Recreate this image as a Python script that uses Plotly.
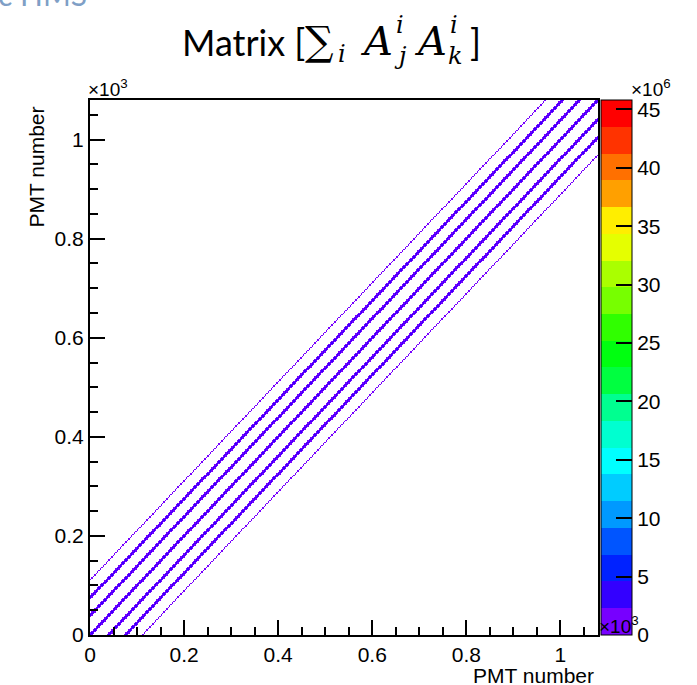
import numpy as np
import plotly.graph_objects as go

# ---------------- data ----------------
N_PMT = 1080                 # PMT index range shown on both axes
PMT_PER_BIN = 3              # binning of the 2D histogram
line_offset = [-112, -75, -38, 0, 38, 75, 112]          # k - j of the correlated diagonals
line_core = [1.1e6, 2.5e6, 2.6e6, 2.7e6, 2.6e6, 2.5e6, 1.1e6]   # sum_i A_j A_k on the diagonal
line_edge = [0.0, 1.3e6, 1.4e6, 1.5e6, 1.4e6, 1.3e6, 0.0]       # value one bin beside it
z_max = 45.8e6
cbar_ticks = [0, 5, 10, 15, 20, 25, 30, 35, 40, 45]       # x10^6
axis_ticks = [0, 0.2, 0.4, 0.6, 0.8, 1.0]                 # x10^3
axis_ticklabels = ["0", "0.2", "0.4", "0.6", "0.8", "1"]
palette = ["#7700ff", "#3300ff", "#0022ff", "#0055ff", "#0099ff",
           "#00ccff", "#00ffff", "#00ffd0", "#00ff90", "#00ff40",
           "#00ff10", "#30ff00", "#77ff00", "#aaff00", "#e5ff00",
           "#ffee00", "#ffa000", "#ff7000", "#ff3300", "#ff0000"]

# ---------------- build histogram ----------------
nb = N_PMT // PMT_PER_BIN
centers = (np.arange(nb) + 0.5) * PMT_PER_BIN
z = np.full((nb, nb), np.nan, dtype=np.float32)
for off, core, edge in zip(line_offset, line_core, line_edge):
    d = int(round(off / PMT_PER_BIN))
    for i in range(nb):
        j = i + d
        if 0 <= j < nb:
            z[j, i] = core
        if edge > 0:
            for e in (-1, 1):
                jj = j + e
                if 0 <= jj < nb and np.isnan(z[jj, i]):
                    z[jj, i] = edge

n = len(palette)
colorscale = []
for i, c in enumerate(palette):
    colorscale.append([i / n, c])
    colorscale.append([(i + 1) / n, c])

W, H = 697, 685
L, R, T, B = 90, 598, 100, 635

def px(xp):
    return (xp - L) / (R - L)

def py(yp):
    return (B - yp) / (B - T)

fig = go.Figure()
fig.add_trace(go.Heatmap(
    x=centers, y=centers, z=z, zmin=0, zmax=z_max,
    colorscale=colorscale, zsmooth=False, hoverongaps=False,
    colorbar=dict(
        thickness=31, thicknessmode="pixels",
        len=1, lenmode="fraction",
        x=px(601), xanchor="left", xpad=0,
        y=0, yanchor="bottom", ypad=0,
        outlinewidth=1, outlinecolor="black",
        tickvals=[v * 1e6 for v in cbar_ticks],
        ticktext=[str(v) for v in cbar_ticks],
        ticks="inside", ticklen=16, tickwidth=2, tickcolor="black",
        tickfont=dict(family="Liberation Sans", size=21, color="black"),
    ),
))

axis_common = dict(
    range=[0, N_PMT], showgrid=False, zeroline=False,
    showline=True, mirror=True, linecolor="black", linewidth=2,
    ticks="inside", ticklen=15, tickwidth=2, tickcolor="black",
    tickvals=[t * 1000 for t in axis_ticks], ticktext=axis_ticklabels,
    tickfont=dict(family="Liberation Sans", size=21, color="black"),
    minor=dict(dtick=50, ticks="inside", ticklen=8, tickwidth=2, tickcolor="black"),
)
fig.update_xaxes(**axis_common)
fig.update_yaxes(**axis_common)

ann = []
def add(text, x, y, size, xa="left", ya="middle", family="Liberation Sans", color="black", angle=0):
    ann.append(dict(text=text, x=px(x), y=py(y), xref="paper", yref="paper",
                    xanchor=xa, yanchor=ya, showarrow=False, textangle=angle,
                    font=dict(family=family, size=size, color=color)))

# axis titles and exponents
add("PMT number", 596, 675, 21, xa="right")
add("PMT number", 36, 105, 21, xa="center", ya="top", angle=-90)
add("×10<sup>3</sup>", 86, 88, 19)
add("×10<sup>3</sup>", 597, 625, 19)
add("×10<sup>6</sup>", 629, 88, 19)
# watermark piece at top-left
add("c HMS", -4, -6, 30, family="Lato", color="#7f9fc6")

# title
serif = "DejaVu Serif"
add("Matrix [", 180, 42, 36, family="Lato")
add("∑", 303, 41, 40, family=serif)
add("<i>i</i>", 336, 54, 24, family=serif)
add("<i>A</i>", 358, 41, 40, family=serif)
add("<i>i</i>", 394, 25, 24, family=serif)
add("<i>j</i>", 392, 56, 24, family=serif)
add("<i>A</i>", 412, 41, 40, family=serif)
add("<i>i</i>", 448, 25, 24, family=serif)
add("<i>k</i>", 446, 56, 24, family=serif)
add("]", 468, 42, 36, family="Lato")

fig.update_layout(
    width=W, height=H, autosize=False,
    margin=dict(l=L, r=W - R, t=T, b=H - B, pad=0),
    paper_bgcolor="white", plot_bgcolor="white",
    annotations=ann, showlegend=False,
)
fig.write_html("out.html")
